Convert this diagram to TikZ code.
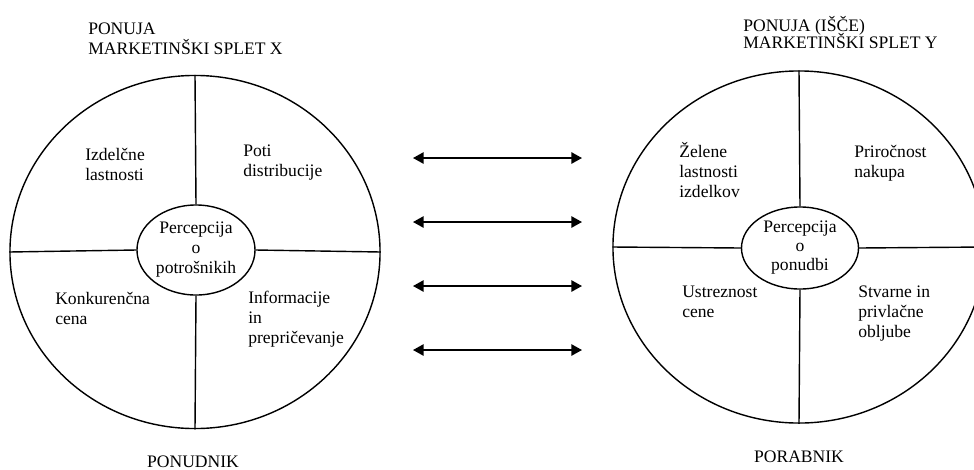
\documentclass[tikz,border=0pt]{standalone}
\usepackage{fontspec}
\setmainfont{Liberation Serif}
\usepackage{tikz}
\usetikzlibrary{shapes.geometric, arrows.meta}
\tikzstyle{mix} = [ellipse, draw, line width=1pt, inner sep=0pt]
\tikzstyle{core} = [ellipse, draw, line width=1pt, inner sep=0pt,
    align=center, font=\fontsize{12.5}{14.2}\selectfont]
\tikzstyle{quad} = [anchor=north west, inner sep=0pt, align=left,
    font=\fontsize{12.5}{14.2}\selectfont]
\tikzstyle{heading} = [anchor=north west, inner sep=0pt, align=left]
\tikzstyle{foot} = [anchor=base, inner sep=0pt, font=\fontsize{12.5}{14.2}\selectfont]
\tikzstyle{line} = [draw, line width=1pt]
\tikzstyle{link} = [draw, line width=1.1pt,
    {Triangle[length=7.5pt,width=8pt]}-{Triangle[length=7.5pt,width=8pt]}]

\begin{document}
\begin{tikzpicture}[x=0.025cm, y=-0.025cm]
        \useasboundingbox (0,0) rectangle (974,469);
        % Place nodes
        \node [heading, font=\fontsize{12.5}{14.2}\selectfont] (titleX) at (88,23)
            {PONUJA\\MARKETINŠKI SPLET X};
        \node [mix, minimum width=9.25cm, minimum height=8.825cm] (splX) at (195,252) {};
        \node [core, minimum width=2.95cm, minimum height=2.25cm] (percX) at (196,250)
            {Percepcija\\o\\potrošnikih};
        \node [quad] (izdX) at (85,148) {Izdelčne\\lastnosti};
        \node [quad] (potiX) at (243,145) {Poti\\distribucije};
        \node [quad] (cenaX) at (55,292) {Konkurenčna\\cena};
        \node [quad] (infoX) at (248,291) {Informacije\\in\\prepričevanje};
        \node [foot] (ponudnik) at (193,467) {PONUDNIK};

        \node [heading, font={\fontsize{12.5}{12.2}\selectfont\lineskiplimit=-20pt}] (titleY) at (743,16)
            {PONUJA (IŠČE)\\MARKETINŠKI SPLET Y};
        \node [mix, minimum width=9.3cm, minimum height=8.8cm] (splY) at (799,247) {};
        \node [core, minimum width=2.925cm, minimum height=2.05cm,
            font=\fontsize{12.5}{13.5}\selectfont] (percY) at (800,248)
            {Percepcija\\o\\ponudbi};
        \node [quad] (izdY) at (679,142) {Želene\\lastnosti\\izdelkov};
        \node [quad] (potiY) at (854,145) {Priročnost\\nakupa};
        \node [quad] (cenaY) at (682,286) {Ustreznost\\cene};
        \node [quad] (infoY) at (858,286) {Stvarne in\\privlačne\\obljube};
        \node [foot] (porabnik) at (799,462) {PORABNIK};
        % Draw edges
        \foreach \s in {X,Y} {
            \path [line] (perc\s.north) -- (spl\s.north);
            \path [line] (perc\s.south) -- (spl\s.south);
            \path [line] (perc\s.west) -- (spl\s.west);
            \path [line] (perc\s.east) -- (spl\s.east);
        }
        \foreach \i/\y in {1/158,2/222,3/286,4/350} {
            \coordinate (fromX\i) at (413,\y);
            \coordinate (toY\i) at (582,\y);
            \path [link] (fromX\i) -- (toY\i);
        }
    \end{tikzpicture}
\end{document}
